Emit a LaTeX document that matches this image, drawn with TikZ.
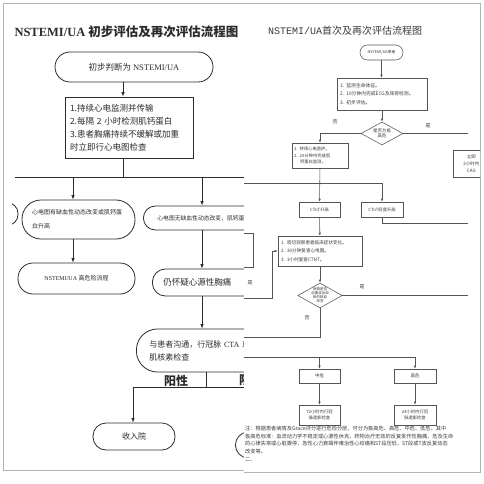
\documentclass[tikz,border=0pt]{standalone}
\usepackage{fontspec}
\usepackage{tikz}
\usetikzlibrary{shapes.geometric,arrows.meta,positioning,calc}
\newfontfamily\cjk{Noto Sans CJK SC}
\newfontfamily\tnr{Liberation Serif}
\newfontfamily\mono{Liberation Mono}
\newcommand{\fsz}[2]{\fontsize{#1}{#2}\selectfont}
\definecolor{lline}{HTML}{2B2B2B}
\definecolor{rline}{HTML}{555555}
\definecolor{frame}{HTML}{B4B4B4}
\definecolor{rtext}{HTML}{3A3A3A}

\begin{document}
\begin{tikzpicture}[x=1pt, y=-1pt,
    lbox/.style={draw=lline, line width=0.8pt, fill=white, font=\cjk, text=lline, inner sep=0pt},
    lstad/.style={lbox, rounded corners=#1},
    lconn/.style={draw=lline, line width=0.8pt},
    larr/.style={lconn, -{Latex[length=4.5pt,width=3.5pt]}},
    rbox/.style={draw=rline, line width=0.55pt, fill=white, font=\cjk, text=rtext, inner sep=0pt, align=center},
    rdia/.style={rbox, diamond, aspect=1.8},
    rconn/.style={draw=rline, line width=0.55pt},
    rarr/.style={rconn, -{Latex[length=3pt,width=2.4pt]}},
    lab/.style={font=\cjk\fsz{5}{6}, text=rtext, inner sep=0pt}
]
\useasboundingbox (0,0) rectangle (484,484);

% left sheet
\draw[draw=frame, line width=0.8pt] (3,3) rectangle (300,470);
\node[font=\bfseries\fsz{12.5}{14}, text=lline] (ltitle) at (126.5,32) {\tnr NSTEMI/UA \cjk 初步评估及再次评估流程图};

\node[lstad=15, minimum width=158, minimum height=30, font=\cjk\fsz{8.5}{10}] (lstart) at (134,67) {初步判断为 {\tnr NSTEMI/UA}};
\node[lbox, minimum width=128, minimum height=61, text width=118, align=left, font=\cjk\fsz{8.5}{13}] (lmon) at (129,127.5) {1.持续心电监测并传输\\2.每隔 2 小时检测肌钙蛋白\\3.患者胸痛持续不缓解或加重\\时立即行心电图检查};

\coordinate (j1) at (123,177);
\coordinate (busL) at (15,177);
\coordinate (busR) at (250,177);
\coordinate (a1) at (73,177);
\coordinate (a2) at (202,177);

\begin{scope}
\clip (12,190) rectangle (40,240);
\node[lstad=11, minimum width=60, minimum height=23] (lcut) at (-12,214) {};
\end{scope}
\node[lstad=19, minimum width=113, minimum height=39, text width=93, align=left, font=\cjk\fsz{6}{14}] (lA) at (78.5,219.5) {心电图有缺血性动态改变或肌钙蛋\\白升高};
\node[lstad=15, minimum width=117, minimum height=31, font=\cjk\fsz{6}{8}] (lB) at (76.5,278.5) {{\tnr NSTEMI/UA} 高危险流程};
\node[lstad=12, anchor=west, minimum width=150, minimum height=24, text width=122, align=left, font=\cjk\fsz{5.8}{8}] (lC) at (143,218) {心电图无缺血性动态改变，肌钙蛋白正常};
\node[lstad=13, anchor=west, minimum width=150, minimum height=27, text width=128, align=left, font=\cjk\fsz{8.5}{10}] (lD) at (152,282.5) {仍怀疑心源性胸痛};
\node[lstad=21, anchor=west, minimum width=170, minimum height=43, text width=144, align=left, font=\cjk\fsz{8}{13}] (lE) at (136,350.5) {与患者沟通，行冠脉 {\tnr CTA} 或心\\肌核素检查};
\node[font=\cjk\bfseries\fsz{12}{14}, text=lline] (lpos) at (176,380.5) {阳性};
\node[font=\cjk\bfseries\fsz{12}{14}, text=lline] (lneg) at (251,380.5) {阴性};
\node[lstad=13, minimum width=82, minimum height=27, font=\cjk\fsz{8}{10}] (lF) at (134,436.5) {收入院};
\node[lstad=13, anchor=west, minimum width=100, minimum height=26] (lG) at (235,445) {};
\coordinate (lk) at (206,387);
\coordinate (lposL) at (133,387);
\coordinate (lnegR) at (250,387);

\draw[larr] (j1 |- lstart.south) -- (j1 |- lmon.north);
\draw[lconn] (j1 |- lmon.south) -- (j1);
\draw[lconn] (busL) -- (busR);
\draw[larr] (a1) -- (a1 |- lA.north);
\draw[larr] (lA.south -| a1) -- (a1 |- lB.north);
\draw[larr] (a2) -- (a2 |- lC.north);
\draw[larr] (lC.south -| a2) -- (a2 |- lD.north);
\draw[larr] (lD.south -| a2) -- (a2 |- lE.north);
\draw[lconn] (lk |- lE.south) -- (lk);
\draw[lconn] (lnegR) -- (lposL);
\draw[larr] (lposL) -- (lposL |- lF.north);

% right sheet
\fill[white] (244,3) rectangle (480,472);
\draw[draw=frame, line width=0.8pt] (244,3) -- (480,3) -- (480,472) -- (244,472);
\begin{scope}
\clip (244,3) rectangle (480,472);
\node[font=\fsz{10}{12}, text=rtext] (rtitle) at (345,31) {\mono NSTEMI/UA\cjk 首次及再次评估流程图};
\node[rbox, rounded corners=7.5, minimum width=43, minimum height=15, font=\cjk\fsz{3.8}{4.5}] (rstart) at (381.5,52.5) {NSTEMI/UA患者};
\node[rbox, minimum width=90, minimum height=32, text width=84, align=left, font=\cjk\fsz{4.8}{8.5}] (rb1) at (382,94) {1. 监测生命体征。\\2. 10分钟内完成ECG及床旁检测。\\3. 初步评估。};
\node[rdia, minimum width=42, minimum height=23, font=\cjk\fsz{4.5}{5.5}] (rd1) at (382,133.5) {是否为极\\高危};
\node[lab] (rno1) at (335,122) {否};
\node[lab] (ryes1) at (428,126) {是};
\node[rbox, minimum width=56, minimum height=25, text width=52, align=left, font=\cjk\fsz{4.3}{6.5}] (rb2) at (320,155.5) {1. 持续心电监护。\\2. 20分钟内完成肌\\\hspace*{6pt}钙蛋白监测。};
\node[rbox, anchor=west, minimum width=36, minimum height=27, font=\cjk\fsz{4.5}{7}] (rb3) at (453,163.5) {立即\\2小时内\\CAG};
\node[rbox, minimum width=41, minimum height=15, font=\cjk\fsz{4.3}{5}] (rct1) at (319.5,209.5) {CTnT升高};
\node[rbox, minimum width=42, minimum height=15, font=\cjk\fsz{4.3}{5}] (rct2) at (382,209.5) {CTnT轻度升高};
\node[rbox, minimum width=84, minimum height=30, text width=78, align=left, font=\cjk\fsz{4.6}{8.3}] (rb4) at (320,251) {1. 密切观察患者临床症状变化。\\2. 30分钟复查心电图。\\3. 3小时复查CTNT。};
\node[rbox, minimum width=54, minimum height=34] (rb5) at (226,250) {};
\node[rdia, minimum width=41, minimum height=25, font=\cjk\fsz{3.5}{3.9}] (rd2) at (320,295.5) {病情是否\\加重或出现\\新的缺血\\改变};
\node[lab] (ryes2) at (250,283) {是};
\node[lab] (ryes3) at (362,287) {是};
\node[lab] (rno2) at (307,318) {否};
\node[rbox, minimum width=41, minimum height=14, font=\cjk\fsz{4.5}{5}] (rmid) at (319.5,376) {中危};
\node[rbox, minimum width=42, minimum height=14, font=\cjk\fsz{4.5}{5}] (rhigh) at (415,376) {高危};
\node[rbox, minimum width=41, minimum height=20, font=\cjk\fsz{4.3}{6.5}] (r72) at (319.5,415) {72小时内行冠\\脉造影检查};
\node[rbox, minimum width=42, minimum height=20, font=\cjk\fsz{4.3}{6.5}] (r24) at (415,415) {24小时内行冠\\脉造影检查};
\node[anchor=north west, inner sep=0pt, align=left, font=\cjk\fsz{5.2}{7.6}, text=rtext] (rnote) at (245,426) {注：根据患者病情及Grace评分进行危险分层，可分为极高危、高危、中危、低危。其中\\极高危标准：血流动力学不稳定或心源性休克，药物治疗无效的反复发作性胸痛，危及生命\\的心律失常或心脏骤停，急性心力衰竭伴难治性心绞痛和ST段压低，ST段或T波反复动态\\改变等。\\二、};

\coordinate (re1) at (468,133.5);
\coordinate (rl1) at (240,183);
\coordinate (re2) at (468,223);
\coordinate (rl2) at (240,298);
\coordinate (rk1) at (272,251);
\coordinate (re3) at (468,295.5);
\coordinate (rl3) at (240,337);
\coordinate (rl4) at (240,357);
\coordinate (rk2) at (415,357);

\draw[rarr] (rstart.south) -- (rstart.south |- rb1.north);
\draw[rarr] (rb1) -- (rd1);
\draw[rconn] (rd1.east) -- (re1);
\draw[rarr] (rd1.west) -| (rb2.north);
\draw[rarr] (rb2) -- (rct1);
\draw[rarr] (rl1) -| (rct2.north);
\draw[rconn] (rct2.south) |- (re2);
\draw[rarr] (rct1) -- (rb4);
\draw[rarr] (rl2) -| (rk1) -- (rb4.west);
\draw[rarr] (rb4) -- (rd2);
\draw[rconn] (rd2.east) -- (re3);
\draw[rconn] (rd2.south) |- (rl3);
\draw[rconn] (rl4) -- (rk2);
\draw[rarr] (rl4 -| rmid.north) -- (rmid.north);
\draw[rarr] (rk2) -- (rhigh.north);
\draw[rarr] (rmid) -- (r72);
\draw[rarr] (rhigh) -- (r24);
\end{scope}
\end{tikzpicture}
\end{document}
